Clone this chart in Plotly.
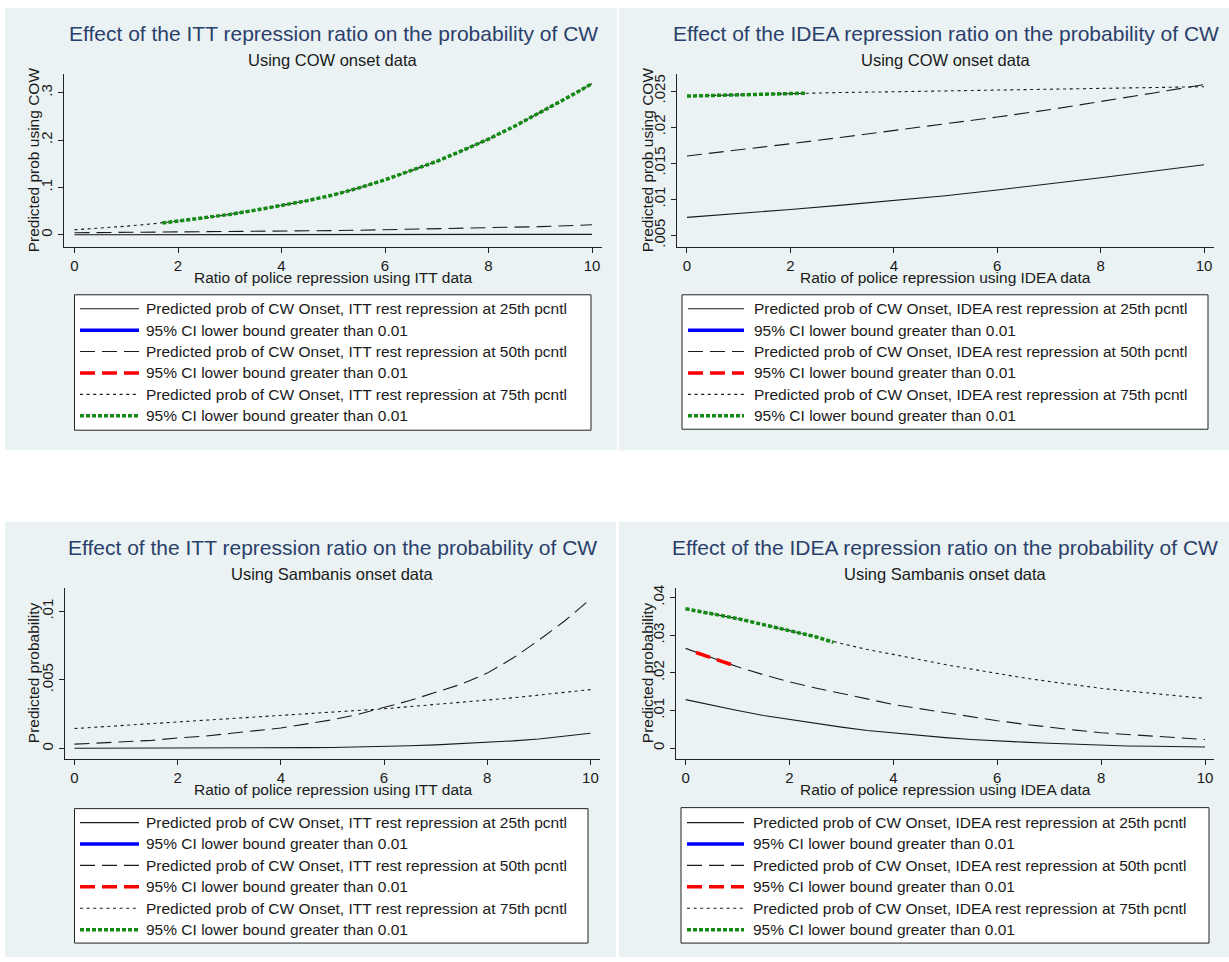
import plotly.graph_objects as go

# ---------------- data ----------------
x_half = [0, 0.5, 1, 1.5, 2, 2.5, 3, 3.5, 4, 4.5, 5, 5.5, 6, 6.5, 7, 7.5, 8, 8.5, 9, 9.5, 10]
x_int = [0, 1, 2, 3, 4, 5, 6, 7, 8, 9, 10]

# Panel 1: ITT ratio, COW onset
itt_cow_p25 = [0.0001, 0.0001, 0.0001, 0.0001, 0.0002, 0.0002, 0.0002, 0.0002, 0.0003, 0.0003, 0.0003,
               0.0004, 0.0004, 0.0005, 0.0005, 0.0006, 0.0006, 0.0007, 0.0008, 0.0008, 0.0009]
itt_cow_p50 = [0.0042, 0.0045, 0.0048, 0.0051, 0.0055, 0.0059, 0.0063, 0.0069, 0.0075, 0.0081, 0.0088,
               0.0096, 0.0105, 0.0114, 0.0124, 0.0134, 0.0145, 0.0158, 0.0172, 0.0190, 0.0210]
itt_cow_p75 = [0.0105, 0.014, 0.018, 0.023, 0.029, 0.035, 0.043, 0.052, 0.062, 0.072, 0.084,
               0.099, 0.116, 0.135, 0.155, 0.178, 0.202, 0.229, 0.258, 0.288, 0.319]
itt_cow_ci75_x = [1.7, 2, 2.5, 3, 3.5, 4, 4.5, 5, 5.5, 6, 6.5, 7, 7.5, 8, 8.5, 9, 9.5, 10]
itt_cow_ci75_y = [0.025, 0.029, 0.035, 0.043, 0.052, 0.062, 0.072, 0.084, 0.099, 0.116, 0.135,
                  0.155, 0.178, 0.202, 0.229, 0.258, 0.288, 0.319]

# Panel 2: IDEA ratio, COW onset
idea_cow_p25 = [0.0075, 0.0080, 0.0086, 0.0092, 0.0098, 0.0105, 0.0113, 0.0121, 0.0130, 0.0139, 0.0148]
idea_cow_p50 = [0.0160, 0.0168, 0.0177, 0.0186, 0.0195, 0.0204, 0.0214, 0.0224, 0.0235, 0.0247, 0.0259]
idea_cow_p75 = [0.0243, 0.0245, 0.0247, 0.0248, 0.0249, 0.0250, 0.0251, 0.0252, 0.0254, 0.0255, 0.0256]
idea_cow_ci75_x = [0, 0.5, 1, 1.5, 2, 2.3]
idea_cow_ci75_y = [0.0243, 0.0244, 0.0245, 0.0246, 0.0247, 0.0247]

# Panel 3: ITT ratio, Sambanis onset
itt_sam_p25 = [0.00002, 0.00002, 0.00003, 0.00003, 0.00004, 0.00004, 0.00005, 0.00005, 0.00006, 0.00007, 0.00008,
               0.00011, 0.00015, 0.0002, 0.00027, 0.00035, 0.00044, 0.00056, 0.0007, 0.0009, 0.00112]
itt_sam_p50 = [0.00032, 0.0004, 0.0005, 0.0006, 0.00077, 0.0009, 0.0011, 0.0013, 0.0015, 0.0018, 0.0021,
               0.0025, 0.003, 0.0035, 0.0041, 0.0047, 0.0055, 0.0066, 0.0079, 0.0093, 0.0109]
itt_sam_p75 = [0.00146, 0.00158, 0.0017, 0.00182, 0.00194, 0.00205, 0.00216, 0.00227, 0.00238, 0.00251, 0.00264,
               0.00277, 0.0029, 0.00306, 0.00322, 0.00336, 0.0035, 0.0037, 0.0039, 0.0041, 0.0043]

# Panel 4: IDEA ratio, Sambanis onset
idea_sam_p25 = [0.0129, 0.0114, 0.0100, 0.0087, 0.0076, 0.0065, 0.0056, 0.0047, 0.0040, 0.0034, 0.0028,
                0.0023, 0.0019, 0.0016, 0.0013, 0.0010, 0.0008, 0.0006, 0.0005, 0.0004, 0.0003]
idea_sam_p50 = [0.0265, 0.0240, 0.0216, 0.0195, 0.0176, 0.0160, 0.0145, 0.0130, 0.0116, 0.0105, 0.0094,
                0.0083, 0.0073, 0.0064, 0.0055, 0.0048, 0.0041, 0.0036, 0.0031, 0.0027, 0.0023]
idea_sam_p75 = [0.0370, 0.0357, 0.0344, 0.0328, 0.0313, 0.0296, 0.0278, 0.0262, 0.0249, 0.0235, 0.0222,
                0.0210, 0.0198, 0.0187, 0.0177, 0.0168, 0.0159, 0.0152, 0.0145, 0.0138, 0.0132]
idea_sam_ci50_x = [0.2, 0.4, 0.6, 0.9]
idea_sam_ci50_y = [0.0254, 0.0244, 0.0235, 0.0221]
idea_sam_ci75_x = [0, 0.5, 1, 1.5, 2, 2.5, 2.85]
idea_sam_ci75_y = [0.0370, 0.0357, 0.0344, 0.0328, 0.0313, 0.0296, 0.0281]

x_ticks = [0, 2, 4, 6, 8, 10]
y_ticks_1 = [0, 0.1, 0.2, 0.3]
y_labels_1 = ["0", ".1", ".2", ".3"]
y_ticks_2 = [0.005, 0.01, 0.015, 0.02, 0.025]
y_labels_2 = [".005", ".01", ".015", ".02", ".025"]
y_ticks_3 = [0, 0.005, 0.01]
y_labels_3 = ["0", ".005", ".01"]
y_ticks_4 = [0, 0.01, 0.02, 0.03, 0.04]
y_labels_4 = ["0", ".01", ".02", ".03", ".04"]

titles = ["Effect of the ITT repression ratio on the probability of CW",
          "Effect of the IDEA repression ratio on the probability of CW",
          "Effect of the ITT repression ratio on the probability of CW",
          "Effect of the IDEA repression ratio on the probability of CW"]
subtitles = ["Using COW onset data", "Using COW onset data",
             "Using Sambanis onset data", "Using Sambanis onset data"]
x_titles = ["Ratio of police repression using ITT data", "Ratio of police repression using IDEA data",
            "Ratio of police repression using ITT data", "Ratio of police repression using IDEA data"]
y_titles = ["Predicted prob using COW", "Predicted prob using COW",
            "Predicted probability", "Predicted probability"]
sources = ["ITT", "IDEA", "ITT", "IDEA"]
ci_label = "95% CI lower bound greater than 0.01"

# ---------------- styling / geometry (pixels) ----------------
W, H = 1229, 962
FONT = "Liberation Sans, Arial, sans-serif"
BG = "#EAF2F3"
INK = "#1a1a1a"
BLUE, RED, GREEN = "#0000ff", "#ff0000", "#138a13"
DASH = "15px,7px"
DOT = "3px,3.6px"
GDOT = "4px,2px"

STY_P25 = dict(color=INK, width=1.1)
STY_CI25 = dict(color=BLUE, width=3.5)
STY_P50 = dict(color=INK, width=1.1, dash=DASH)
STY_CI50 = dict(color=RED, width=3.5, dash=DASH)
STY_P75 = dict(color=INK, width=1.1, dash=DOT)
STY_CI75 = dict(color=GREEN, width=3.5, dash=GDOT)


def fx(p):
    return p / W


def fy(p):
    return 1 - p / H


geo = [
    dict(bg=(5, 617, 5, 449), plot=(64, 602, 71, 245), ytx=33,
         leg=(74.5, 591, 293, 429), samp=(80, 139), tx=144, row0=307,
         xr=[-0.203, 10.193], yr=[-0.0258, 0.34], yt=(y_ticks_1, y_labels_1)),
    dict(bg=(619, 1229, 5, 449), plot=(677, 1214, 71, 245), ytx=647,
         leg=(682, 1208, 293, 428), samp=(688, 744), tx=752, row0=307,
         xr=[-0.193, 10.193], yr=[0.0034, 0.0274], yt=(y_ticks_2, y_labels_2)),
    dict(bg=(5, 616, 521, 958), plot=(65, 600, 587, 759), ytx=33,
         leg=(74.5, 588, 809, 944), samp=(80, 139), tx=144, row0=823,
         xr=[-0.184, 10.186], yr=[-0.00075, 0.01174], yt=(y_ticks_3, y_labels_3)),
    dict(bg=(619, 1229, 521, 958), plot=(676, 1214, 587, 759), ytx=647,
         leg=(681, 1209, 808, 944), samp=(687, 744), tx=751, row0=823,
         xr=[-0.185, 10.173], yr=[-0.00283, 0.04265], yt=(y_ticks_4, y_labels_4)),
]
ROW_STEP = 21.5

series = [
    dict(x=x_half, p25=itt_cow_p25, p50=itt_cow_p50, p75=itt_cow_p75,
         ci50=None, ci75=(itt_cow_ci75_x, itt_cow_ci75_y)),
    dict(x=x_int, p25=idea_cow_p25, p50=idea_cow_p50, p75=idea_cow_p75,
         ci50=None, ci75=(idea_cow_ci75_x, idea_cow_ci75_y)),
    dict(x=x_half, p25=itt_sam_p25, p50=itt_sam_p50, p75=itt_sam_p75,
         ci50=None, ci75=None),
    dict(x=x_half, p25=idea_sam_p25, p50=idea_sam_p50, p75=idea_sam_p75,
         ci50=(idea_sam_ci50_x, idea_sam_ci50_y), ci75=(idea_sam_ci75_x, idea_sam_ci75_y)),
]

fig = go.Figure()
layout = dict(width=W, height=H, margin=dict(l=0, r=0, t=0, b=0),
              paper_bgcolor="white", plot_bgcolor="white", showlegend=False,
              font=dict(family=FONT, color=INK, size=15))
shapes = []
annotations = []

for i, (g, s) in enumerate(zip(geo, series)):
    n = "" if i == 0 else str(i + 1)
    xa, ya = "x" + n, "y" + n
    src = sources[i]
    lab25 = f"Predicted prob of CW Onset, {src} rest repression at 25th pcntl"
    lab50 = f"Predicted prob of CW Onset, {src} rest repression at 50th pcntl"
    lab75 = f"Predicted prob of CW Onset, {src} rest repression at 75th pcntl"

    def add(x, y, name, line):
        fig.add_trace(go.Scatter(x=x, y=y, mode="lines", name=name, line=line,
                                 xaxis=xa, yaxis=ya, hoverinfo="skip"))

    add(s["x"], s["p25"], lab25, STY_P25)
    add(s["x"], s["p50"], lab50, STY_P50)
    if s["ci50"]:
        add(s["ci50"][0], s["ci50"][1], ci_label, STY_CI50)
    add(s["x"], s["p75"], lab75, STY_P75)
    if s["ci75"]:
        add(s["ci75"][0], s["ci75"][1], ci_label, STY_CI75)

    # panel background
    bx0, bx1, by0, by1 = g["bg"]
    shapes.append(dict(type="rect", xref="paper", yref="paper", layer="below",
                       x0=fx(bx0), x1=fx(bx1), y0=fy(by1), y1=fy(by0),
                       fillcolor=BG, line=dict(width=0)))
    # axes
    px0, px1, py0, py1 = g["plot"]
    layout["xaxis" + n] = dict(domain=[fx(px0), fx(px1)], range=g["xr"], anchor=ya,
                               tickvals=x_ticks, ticktext=[str(v) for v in x_ticks],
                               ticks="outside", ticklen=5, tickcolor="#222", tickwidth=1,
                               showline=True, linecolor="#222", linewidth=1,
                               showgrid=False, zeroline=False,
                               tickfont=dict(size=15, color=INK, family=FONT))
    layout["yaxis" + n] = dict(domain=[fy(py1), fy(py0)], range=g["yr"], anchor=xa,
                               tickvals=g["yt"][0], ticktext=g["yt"][1], tickangle=-90,
                               ticks="outside", ticklen=5, tickcolor="#222", tickwidth=1,
                               showline=True, linecolor="#222", linewidth=1,
                               showgrid=True, gridcolor=BG, gridwidth=1, zeroline=False,
                               tickfont=dict(size=15, color=INK, family=FONT))
    # titles
    cx = (px0 + px1) / 2
    annotations.append(dict(text=titles[i], x=fx(cx), y=fy(by0 + 26), xref="paper", yref="paper",
                            showarrow=False, xanchor="center", yanchor="middle",
                            font=dict(size=21, color="#2B3F6B", family=FONT)))
    annotations.append(dict(text=subtitles[i], x=fx(cx), y=fy(py0 - 14), xref="paper", yref="paper",
                            showarrow=False, xanchor="center", yanchor="middle",
                            font=dict(size=16.5, color=INK, family=FONT)))
    annotations.append(dict(text=x_titles[i], x=fx(cx), y=fy(py1 + 31), xref="paper", yref="paper",
                            showarrow=False, xanchor="center", yanchor="middle",
                            font=dict(size=15.5, color=INK, family=FONT)))
    annotations.append(dict(text=y_titles[i], x=fx(g["ytx"]), y=fy((py0 + py1) / 2),
                            xref="paper", yref="paper", textangle=-90,
                            showarrow=False, xanchor="center", yanchor="middle",
                            font=dict(size=15.5, color=INK, family=FONT)))

    # legend box with six keys
    lx0, lx1, ly0, ly1 = g["leg"]
    shapes.append(dict(type="rect", xref="paper", yref="paper", layer="above",
                       x0=fx(lx0), x1=fx(lx1), y0=fy(ly1), y1=fy(ly0),
                       fillcolor="white", line=dict(color="#222", width=1)))
    keys = [(lab25, STY_P25), (ci_label, STY_CI25), (lab50, STY_P50),
            (ci_label, STY_CI50), (lab75, STY_P75), (ci_label, STY_CI75)]
    sx0, sx1 = g["samp"]
    for k, (lab, sty) in enumerate(keys):
        ry = g["row0"] + k * ROW_STEP
        shapes.append(dict(type="line", xref="paper", yref="paper", layer="above",
                           x0=fx(sx0), x1=fx(sx1), y0=fy(ry), y1=fy(ry), line=sty))
        annotations.append(dict(text=lab, x=fx(g["tx"]), y=fy(ry), xref="paper", yref="paper",
                                showarrow=False, xanchor="left", yanchor="middle",
                                font=dict(size=15.5, color=INK, family=FONT)))

layout["shapes"] = shapes
layout["annotations"] = annotations
fig.update_layout(**layout)
fig.write_html("out.html")
